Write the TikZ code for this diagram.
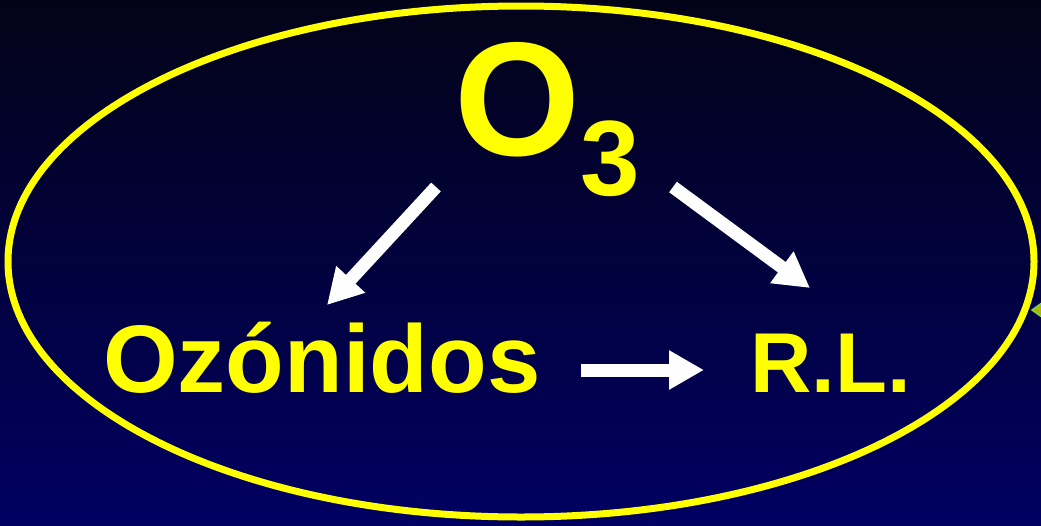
\documentclass[tikz,border=0pt]{standalone}
\usepackage{fontspec}
\setmainfont{Liberation Sans}
\usetikzlibrary{arrows.meta}
\definecolor{bgtop}{RGB}{3,3,24}
\definecolor{bgbot}{RGB}{0,0,98}
\definecolor{ylw}{RGB}{255,255,0}
\definecolor{olivefill}{RGB}{180,180,0}
\definecolor{greenedge}{RGB}{110,220,70}
\tikzset{
  lbl/.style={anchor=base west, inner sep=0pt, text=ylw, font=\bfseries},
  bigarrow/.style={draw=white, line width=13pt, line cap=butt,
    -{Triangle[length=35pt,width=37pt]}},
}
\begin{document}
\begin{tikzpicture}[x=1pt,y=-1pt]
\useasboundingbox (0,0) rectangle (1041,525);
\clip (0,0) rectangle (1041,525);
\shade[top color=bgtop, bottom color=bgbot] (0,0) rectangle (1041,525);
% ellipse
\draw[ylw, line width=7pt] (521,261.5) ellipse [x radius=513, y radius=255.5];
% partly visible marker at right edge
\draw[fill=olivefill, draw=greenedge, line width=1.5pt]
  (1032,310) -- (1046,300) -- (1060,310) -- (1046,320) -- cycle;
% labels
\node[lbl, font=\bfseries\fontsize{162}{162}\selectfont] (o3) at (454,155)
  {O\raisebox{-40pt}{\fontsize{107}{107}\selectfont 3}};
\node[lbl, font=\bfseries\fontsize{96}{96}\selectfont] (ozo) at (103,392) {Ozónidos};
\node[lbl, font=\bfseries\fontsize{85}{85}\selectfont] (rl) at (750,392) {R.L.};
% connector ends
\coordinate (a1s) at (436,187);
\coordinate (a1e) at (327,305);
\coordinate (a2s) at (673,187);
\coordinate (a2e) at (810,288);
\coordinate (a3s) at (581,370);
\coordinate (a3e) at (704,370);
\draw[bigarrow] (a1s) -- (a1e);
\draw[bigarrow] (a2s) -- (a2e);
\draw[bigarrow] (a3s) -- (a3e);
\end{tikzpicture}
\end{document}
